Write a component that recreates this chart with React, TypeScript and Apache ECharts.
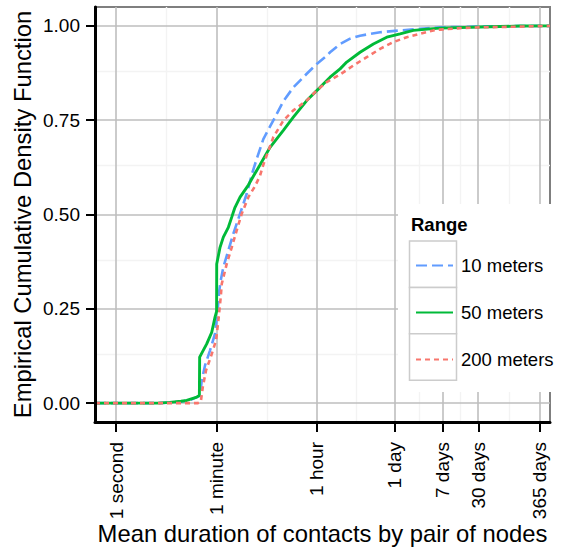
import React, { useEffect, useRef } from 'react';
import * as echarts from 'echarts';

// Axis ticks (x axis is log10 of seconds)
const tickSeconds = [1, 60, 3600, 86400, 604800, 2592000, 31536000];
const tickLabels = ['1 second', '1 minute', '1 hour', '1 day', '7 days', '30 days', '365 days'];
const yTicks = [0, 0.25, 0.5, 0.75, 1];

const seriesNames = ['10 meters', '50 meters', '200 meters'];
const seriesColors = ['#619CFF', '#00BA38', '#F8766D'];

// ECDF curves: x = log10(mean contact duration in seconds), y = cumulative share
const x10m = [-0.372, 0.78, 1.0, 1.2, 1.31, 1.46, 1.487, 1.517, 1.575, 1.664, 1.752, 1.793, 1.828, 1.853, 1.899, 1.988, 2.076, 2.195, 2.313, 2.407, 2.5, 2.607, 2.814, 2.961, 3.138, 3.375, 3.552, 3.729, 3.788, 3.965, 4.142, 4.319, 4.673, 5.027, 5.381, 5.735, 6.44, 7.15, 7.68];
const y10m = [0, 0, 0.002, 0.005, 0.008, 0.018, 0.02, 0.06, 0.1, 0.14, 0.184, 0.237, 0.299, 0.325, 0.36, 0.405, 0.449, 0.502, 0.555, 0.608, 0.652, 0.7, 0.758, 0.8, 0.837, 0.873, 0.899, 0.921, 0.93, 0.952, 0.966, 0.974, 0.983, 0.988, 0.992, 0.996, 0.998, 0.9995, 1];

const x50m = [-0.372, 0.73, 0.95, 1.15, 1.25, 1.43, 1.475, 1.48, 1.605, 1.694, 1.752, 1.78, 1.782, 1.841, 1.899, 1.988, 2.048, 2.076, 2.106, 2.195, 2.342, 2.425, 2.549, 2.726, 2.961, 3.138, 3.375, 3.611, 3.788, 3.965, 4.083, 4.319, 4.554, 4.791, 5.027, 5.262, 5.558, 5.735, 6.44, 7.15, 7.68];
const y50m = [0, 0, 0.002, 0.005, 0.007, 0.016, 0.02, 0.122, 0.157, 0.188, 0.228, 0.243, 0.369, 0.413, 0.44, 0.466, 0.493, 0.506, 0.519, 0.546, 0.578, 0.6, 0.632, 0.678, 0.723, 0.758, 0.802, 0.837, 0.864, 0.886, 0.904, 0.93, 0.952, 0.97, 0.979, 0.988, 0.992, 0.994, 0.997, 0.9995, 1];

const x200m = [-0.372, 1.45, 1.5, 1.535, 1.593, 1.676, 1.77, 1.811, 1.853, 1.871, 1.959, 2.048, 2.136, 2.225, 2.342, 2.46, 2.549, 2.607, 2.784, 2.961, 3.138, 3.375, 3.552, 3.729, 3.965, 4.2, 4.437, 4.673, 4.908, 5.145, 5.381, 5.616, 5.735, 6.09, 6.44, 7.15, 7.68];
const y200m = [0, 0, 0.003, 0.042, 0.087, 0.122, 0.166, 0.219, 0.281, 0.316, 0.369, 0.413, 0.458, 0.502, 0.546, 0.575, 0.603, 0.632, 0.705, 0.749, 0.776, 0.802, 0.829, 0.851, 0.871, 0.895, 0.917, 0.939, 0.957, 0.97, 0.979, 0.988, 0.99, 0.994, 0.996, 0.998, 1];

const FONT = '"Liberation Sans", Arial, Helvetica, sans-serif';

export default function App() {
  const ref = useRef<HTMLDivElement>(null);

  useEffect(() => {
    if (!ref.current) return;
    const chart = echarts.init(ref.current, undefined, { renderer: 'svg' });

    const xTickVals = tickSeconds.map((s) => Math.log10(s));
    const mid = (a: number[]) => a.slice(1).map((v, i) => (v + a[i]) / 2);
    const xMinor = mid(xTickVals);
    const yMinor = mid(yTicks);
    const majorStyle = { color: '#bebebe', width: 1.6, type: 'solid' };
    const minorStyle = { color: '#f3f3f3', width: 1.4, type: 'solid' };

    const xs = [x10m, x50m, x200m];
    const ys = [y10m, y50m, y200m];
    const dashes: any[] = [[11, 5], 'solid', [5, 4]];
    const widths = [2.6, 2.9, 2.6];

    const curveSeries = seriesNames.map((name, i) => ({
      type: 'line',
      name,
      data: xs[i].map((x, j) => [x, ys[i][j]]),
      showSymbol: false,
      symbol: 'none',
      smooth: false,
      z: 3,
      lineStyle: { color: seriesColors[i], width: widths[i], type: dashes[i], cap: 'butt' },
      itemStyle: { color: seriesColors[i] },
      emphasis: { disabled: true },
    }));

    const gridSeries = {
      type: 'line',
      data: [],
      silent: true,
      z: 1,
      markLine: {
        silent: true,
        symbol: ['none', 'none'],
        label: { show: false },
        z: 1,
        emphasis: { disabled: true },
        data: [
          ...xMinor.map((v) => ({ xAxis: v, lineStyle: minorStyle })),
          ...yMinor.map((v) => ({ yAxis: v, lineStyle: minorStyle })),
          ...xTickVals.map((v) => ({ xAxis: v, lineStyle: majorStyle })),
          ...yTicks.map((v) => ({ yAxis: v, lineStyle: majorStyle })),
        ],
      },
    };

    const labelFor = (v: number) => {
      const i = xTickVals.findIndex((t) => Math.abs(t - v) < 1e-6);
      return i >= 0 ? tickLabels[i] : '';
    };

    chart.setOption({
      animation: false,
      backgroundColor: '#ffffff',
      grid: {
        left: 95,
        right: 11,
        top: 7,
        bottom: 125,
        outerBoundsMode: 'none',
        containLabel: false,
        show: true,
        backgroundColor: '#ffffff',
        borderColor: '#7f7f7f',
        borderWidth: 2,
      },
      xAxis: {
        type: 'value',
        min: -0.372,
        max: 7.68,
        z: 4,
        axisLine: { show: true, onZero: false, lineStyle: { color: '#000000', width: 3 } },
        axisTick: { show: true, length: 10, customValues: xTickVals, lineStyle: { color: '#000000', width: 2 } },
        axisLabel: {
          customValues: xTickVals,
          rotate: 90,
          margin: 20,
          fontSize: 19,
          color: '#000000',
          fontFamily: FONT,
          formatter: (v: number) => labelFor(v),
        },
        splitLine: { show: false },
        name: 'Mean duration of contacts by pair of nodes',
        nameLocation: 'middle',
        nameGap: 99,
        nameMoveOverlap: false,
        nameTextStyle: { fontSize: 23.8, color: '#000000', fontFamily: FONT },
      },
      yAxis: {
        type: 'value',
        min: -0.05,
        max: 1.05,
        z: 4,
        axisLine: { show: true, onZero: false, lineStyle: { color: '#000000', width: 3 } },
        axisTick: { show: true, length: 9, customValues: yTicks, lineStyle: { color: '#000000', width: 2 } },
        axisLabel: {
          customValues: yTicks,
          margin: 15,
          fontSize: 19,
          color: '#000000',
          fontFamily: FONT,
          formatter: (v: number) => v.toFixed(2),
        },
        splitLine: { show: false },
        name: 'Empirical Cumulative Density Function',
        nameLocation: 'middle',
        nameGap: 61,
        nameMoveOverlap: false,
        nameTextStyle: { fontSize: 23.8, color: '#000000', fontFamily: FONT },
      },
      legend: {
        orient: 'vertical',
        left: 415,
        top: 256,
        padding: 0,
        itemWidth: 37,
        itemHeight: 20,
        itemGap: 28,
        z: 20,
        data: seriesNames,
        itemStyle: { opacity: 0, borderWidth: 0 },
        textStyle: { fontSize: 18.5, color: '#000000', fontFamily: FONT, padding: [0, 0, 0, 3] },
        selectedMode: false,
      },
      graphic: [
        {
          type: 'rect',
          z: 10,
          silent: true,
          shape: { x: 398, y: 204, width: 160, height: 188 },
          style: { fill: '#ffffff', stroke: 'none' },
        },
        {
          type: 'text',
          z: 11,
          silent: true,
          x: 411,
          y: 224,
          style: {
            text: 'Range',
            fill: '#000000',
            font: 'bold 18.5px "Liberation Sans", Arial, sans-serif',
            verticalAlign: 'middle',
            align: 'left',
          },
        },
        ...[0, 1, 2].map((i) => ({
          type: 'rect',
          z: 11,
          silent: true,
          shape: { x: 409.5, y: 241 + i * 46.4, width: 47, height: 46.4 },
          style: { fill: '#ffffff', stroke: '#cccccc', lineWidth: 1.5 },
        })),
      ],
      series: [gridSeries, ...curveSeries],
    });

    return () => chart.dispose();
  }, []);

  return (
    <div
      ref={ref}
      style={{ position: 'fixed', left: 0, top: 0, width: 561, height: 547 }}
    />
  );
}
